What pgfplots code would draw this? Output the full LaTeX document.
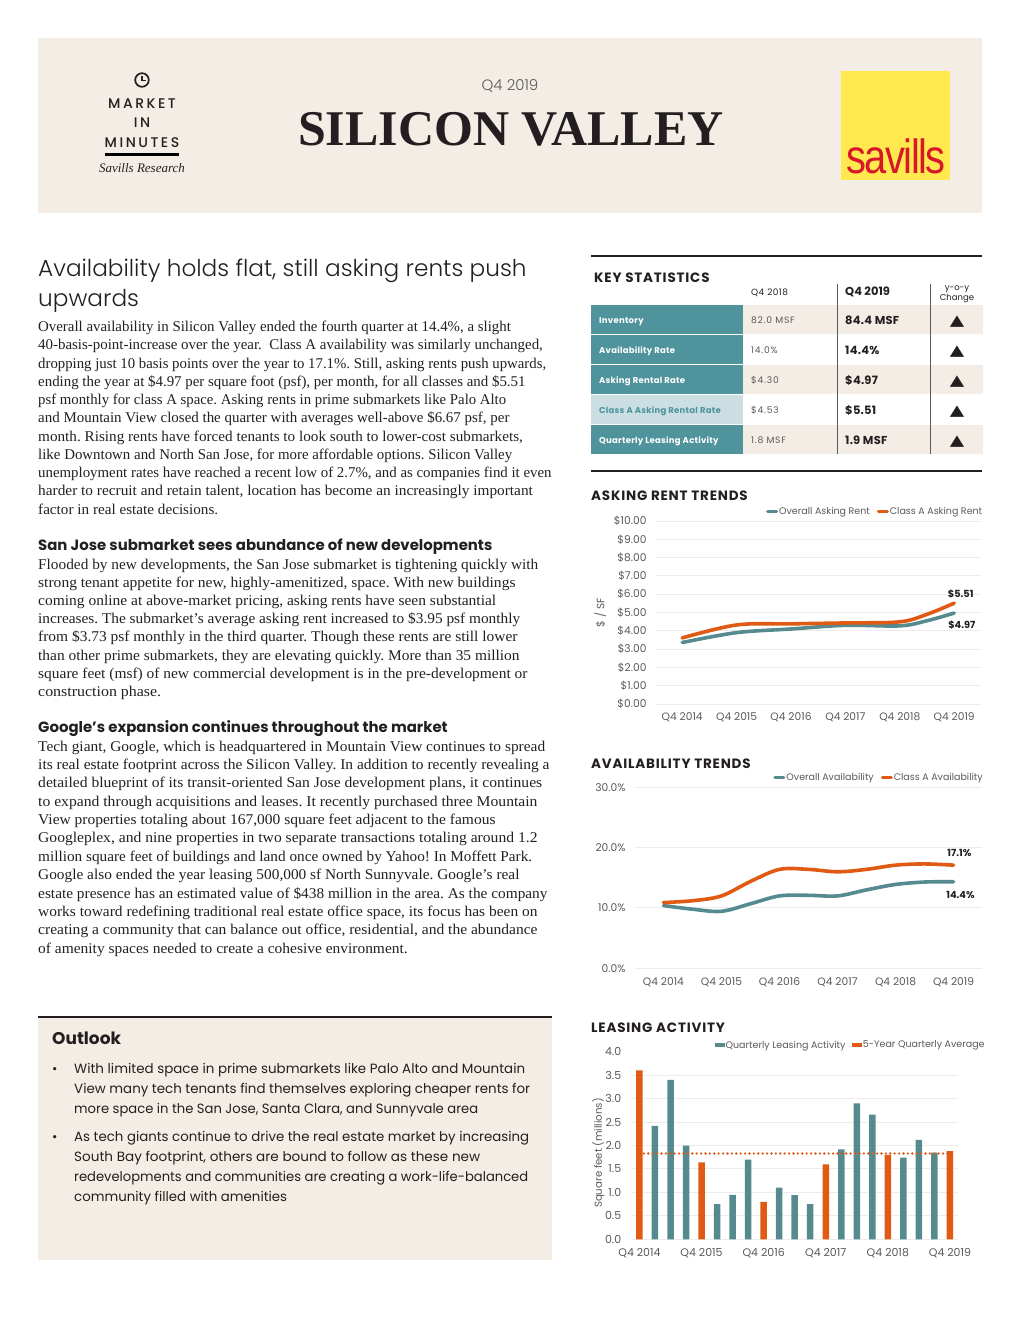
\documentclass[border=0pt]{standalone}
\usepackage{fontspec}
\usepackage{graphicx}
\usepackage{pgfplots}
\pgfplotsset{compat=1.18}
\setmainfont{Liberation Serif}
\setsansfont{Poppins}
\newfontfamily\thin{Poppins Light}
\newfontfamily\medium{Poppins Medium}
\newfontfamily\symb{DejaVu Sans}
\newfontfamily\logo{Liberation Sans}
\definecolor{beige}{HTML}{F3EDE6}
\definecolor{tealbox}{HTML}{4F939C}
\definecolor{tealpale}{HTML}{CBDFE3}
\definecolor{tealline}{HTML}{558A8E}
\definecolor{rust}{HTML}{E05A14}
\definecolor{ink}{HTML}{231F20}
\definecolor{soft}{HTML}{58595B}
\definecolor{gridc}{HTML}{ECECEC}
\definecolor{sun}{HTML}{FFE94E}
\definecolor{brick}{HTML}{D8182A}
\newcommand\fs[1]{\fontsize{#1}{#1}\selectfont}
\newcommand\tl[3]{\node[anchor=base west,inner sep=0pt] at (#1,#2) {#3};}
% baseline, right edge in the page, text: each line squeezed to the width it has in the page
\newcommand\body[3]{\node[anchor=base west,inner sep=0pt,text=ink] at (38,#1) {\resizebox{\dimexpr#2pt-38pt\relax}{\height}{\fs{14.9}\rmfamily\frenchspacing #3}};}
\newcommand\outl[3]{\node[anchor=base west,inner sep=0pt,text=ink] at (74,#1) {\resizebox{\dimexpr#2pt-74pt\relax}{\height}{\fs{13.4}\sffamily #3}};}
\newcommand\sect[3]{\node[anchor=base west,inner sep=0pt,text=ink] at (#1,#2) {\fs{13.5}\sffamily\bfseries\addfontfeature{LetterSpace=6}#3};}
\newcommand\upmark[1]{\node[anchor=base,inner sep=0pt,text=ink,xscale=1.25] at (957,#1) {\fs{15}\symb ▲};}
\pgfplotsset{
  pagechart/.style={
    scale only axis,
    axis line style={draw=none},
    major tick length=0pt,
    ymajorgrids,
    grid style={gridc,line width=1pt},
    tick label style={font=\fs{10.7}\sffamily,text=soft},
    xticklabel style={yshift=-5.5pt},
    /pgf/number format/assume math mode=true,
    legend columns=2,
    legend cell align=left,
    legend style={draw=none,fill=none,inner sep=0pt,at={(1,1)},anchor=south east,
      xshift=3pt,yshift=3pt,
      font=\fs{9.5}\sffamily,text=soft,
      /tikz/every odd column/.append style={column sep=-1pt},
      /tikz/every even column/.append style={column sep=5pt}},
    legend image code/.code={\draw[##1,line width=3pt] (0,0) -- (9pt,0);},
  },
  trend/.style={line width=3.6pt,smooth,tension=0.55,no markers,line cap=round},
}
\begin{document}
\begin{tikzpicture}[x=1pt,y=-1pt]
\path[use as bounding box] (0,0) rectangle (1020,1320);

% banner
\fill[beige] (38,38) rectangle (982,213);
\fill[sun] (841,71) rectangle (950,180);
\node[anchor=base,inner sep=0pt,text=brick,xscale=0.83] at (896,173) {\fs{48}\logo\addfontfeature{LetterSpace=-4}savills};
\draw[ink,line width=1.7pt] (142,80) circle (6.8);
\draw[ink,line width=1.3pt] (142,75.5) -- (142,80.5) -- (146,80.5);
\node[anchor=base,inner sep=0pt,text=ink] at (142,108) {\fs{14}\medium\addfontfeature{LetterSpace=18}MARKET};
\node[anchor=base,inner sep=0pt,text=ink] at (142,127.5) {\fs{14}\medium\addfontfeature{LetterSpace=18}IN};
\node[anchor=base,inner sep=0pt,text=ink] at (142,147) {\fs{14}\medium\addfontfeature{LetterSpace=18}MINUTES};
\node[anchor=base,inner sep=0pt,text=ink] at (142,172) {\fs{13}\rmfamily\itshape Savills Research};
\node[anchor=base,inner sep=0pt,text=soft] at (510,90) {\fs{15}\thin Q4 2019};
\node[anchor=base,inner sep=0pt,text=ink] at (511,145) {\fs{50}\rmfamily\bfseries SILICON VALLEY};
\draw[black,line width=2.2pt] (105,154.5) -- (179,154.5);

% article
\tl{38}{276}{\fs{23.2}\thin\color{ink}Availability holds flat, still asking rents push}
\tl{38}{306}{\fs{23.2}\thin\color{ink}upwards}
\body{331}{510.7}{Overall availability in Silicon Valley ended the fourth quarter at 14.4\%, a slight}
\body{349}{542.7}{40-basis-point-increase over the year.\ \ Class A availability was similarly unchanged,}
\body{368}{546}{dropping just 10 basis points over the year to 17.1\%. Still, asking rents push upwards,}
\body{386}{525.3}{ending the year at \$4.97 per square foot (psf), per month, for all classes and \$5.51}
\body{404}{506}{psf monthly for class A space. Asking rents in prime submarkets like Palo Alto}
\body{422}{509.3}{and Mountain View closed the quarter with averages well-above \$6.67 psf, per}
\body{441}{522.7}{month. Rising rents have forced tenants to look south to lower-cost submarkets,}
\body{459}{512}{like Downtown and North San Jose, for more affordable options. Silicon Valley}
\body{477}{551.3}{unemployment rates have reached a recent low of 2.7\%, and as companies find it even}
\body{495}{532.7}{harder to recruit and retain talent, location has become an increasingly important}
\body{514}{218}{factor in real estate decisions.}
\tl{38}{550}{\fs{14.9}\sffamily\bfseries\color{ink}San Jose submarket sees abundance of new developments}
\body{569}{538}{Flooded by new developments, the San Jose submarket is tightening quickly with}
\body{587}{515.3}{strong tenant appetite for new, highly-amenitized, space. With new buildings}
\body{605}{496}{coming online at above-market pricing, asking rents have seen substantial}
\body{623}{520}{increases. The submarket’s average asking rent increased to \$3.95 psf monthly}
\body{641}{517.3}{from \$3.73 psf monthly in the third quarter. Though these rents are still lower}
\body{660}{519.3}{than other prime submarkets, they are elevating quickly. More than 35 million}
\body{678}{527.3}{square feet (msf) of new commercial development is in the pre-development or}
\body{696}{161}{construction phase.}
\tl{38}{732}{\fs{14.9}\sffamily\bfseries\color{ink}Google’s expansion continues throughout the market}
\body{751}{545}{Tech giant, Google, which is headquartered in Mountain View continues to spread}
\body{769}{549.3}{its real estate footprint across the Silicon Valley. In addition to recently revealing a}
\body{787}{542}{detailed blueprint of its transit-oriented San Jose development plans, it continues}
\body{806}{537.3}{to expand through acquisitions and leases. It recently purchased three Mountain}
\body{824}{495.3}{View properties totaling about 167,000 square feet adjacent to the famous}
\body{842}{537.3}{Googleplex, and nine properties in two separate transactions totaling around 1.2}
\body{861}{532}{million square feet of buildings and land once owned by Yahoo! In Moffett Park.}
\body{879}{519.3}{Google also ended the year leasing 500,000 sf North Sunnyvale. Google’s real}
\body{898}{547.3}{estate presence has an estimated value of \$438 million in the area. As the company}
\body{916}{537.3}{works toward redefining traditional real estate office space, its focus has been on}
\body{934}{537.3}{creating a community that can balance out office, residential, and the abundance}
\body{953}{407.5}{of amenity spaces needed to create a cohesive environment.}

% outlook
\fill[beige] (38,1017) rectangle (552,1260);
\draw[ink,line width=1.5pt] (38,1017) -- (552,1017);
\tl{52}{1044}{\fs{17}\sffamily\bfseries\color{ink}Outlook}
\tl{52}{1073}{\fs{13}\sffamily\color{ink}•}
\tl{52}{1141}{\fs{13}\sffamily\color{ink}•}
\outl{1073}{525}{With limited space in prime submarkets like Palo Alto and Mountain}
\outl{1093}{530}{View many tech tenants find themselves exploring cheaper rents for}
\outl{1113}{478}{more space in the San Jose, Santa Clara, and Sunnyvale area}
\outl{1141}{529}{As tech giants continue to drive the real estate market by increasing}
\outl{1161}{480}{South Bay footprint, others are bound to follow as these new}
\outl{1181}{528}{redevelopments and communities are creating a work-life-balanced}
\outl{1201}{287}{community filled with amenities}

% key statistics table
\draw[ink,line width=1.5pt] (591,256) -- (982,256);
\draw[ink,line width=1.5pt] (591,471) -- (982,471);
\sect{594}{282}{KEY STATISTICS}
\fill[beige] (743,305) rectangle (983,334);
\fill[beige] (743,365) rectangle (983,394);
\fill[beige] (743,425) rectangle (983,454);
\fill[tealbox] (591,305) rectangle (743,334);
\fill[tealbox] (591,335) rectangle (743,364);
\fill[tealbox] (591,365) rectangle (743,394);
\fill[tealpale] (591,395) rectangle (743,424);
\fill[tealbox] (591,425) rectangle (743,454);
\draw[soft,line width=1pt] (837.5,284) -- (837.5,454);
\draw[soft,line width=1pt] (930.5,284) -- (930.5,454);
\tl{751}{295}{\fs{9}\sffamily\addfontfeature{LetterSpace=5}\color{ink}Q4 2018}
\tl{845}{295.5}{\fs{11.5}\sffamily\bfseries\color{ink}Q4 2019}
\node[anchor=base,inner sep=0pt,text=ink] at (957,290) {\fs{8.5}\sffamily y-o-y};
\node[anchor=base,inner sep=0pt,text=ink] at (957,300.5) {\fs{8.5}\sffamily Change};
\tl{599}{323}{\fs{8.5}\sffamily\bfseries\addfontfeature{LetterSpace=3}\color{white}Inventory}
\tl{599}{353}{\fs{8.5}\sffamily\bfseries\addfontfeature{LetterSpace=3}\color{white}Availability Rate}
\tl{599}{383}{\fs{8.5}\sffamily\bfseries\addfontfeature{LetterSpace=3}\color{white}Asking Rental Rate}
\tl{599}{413}{\fs{8.5}\sffamily\bfseries\addfontfeature{LetterSpace=3}\color{tealbox}Class A Asking Rental Rate}
\tl{599}{443}{\fs{8.5}\sffamily\bfseries\addfontfeature{LetterSpace=3}\color{white}Quarterly Leasing Activity}
\tl{751}{323.5}{\fs{9.2}\sffamily\addfontfeature{LetterSpace=8}\color{soft}82.0 MSF}
\tl{751}{353.5}{\fs{9.2}\sffamily\addfontfeature{LetterSpace=8}\color{soft}14.0\%}
\tl{751}{383.5}{\fs{9.2}\sffamily\addfontfeature{LetterSpace=8}\color{soft}\$4.30}
\tl{751}{413.5}{\fs{9.2}\sffamily\addfontfeature{LetterSpace=8}\color{soft}\$4.53}
\tl{751}{443.5}{\fs{9.2}\sffamily\addfontfeature{LetterSpace=8}\color{soft}1.8 MSF}
\tl{845}{324}{\fs{11.5}\sffamily\bfseries\addfontfeature{LetterSpace=2}\color{ink}84.4 MSF}
\tl{845}{354}{\fs{11.5}\sffamily\bfseries\addfontfeature{LetterSpace=2}\color{ink}14.4\%}
\tl{845}{384}{\fs{11.5}\sffamily\bfseries\addfontfeature{LetterSpace=2}\color{ink}\$4.97}
\tl{845}{414}{\fs{11.5}\sffamily\bfseries\addfontfeature{LetterSpace=2}\color{ink}\$5.51}
\tl{845}{444}{\fs{11.5}\sffamily\bfseries\addfontfeature{LetterSpace=2}\color{ink}1.9 MSF}
\upmark{325}\upmark{355}\upmark{385}\upmark{415}\upmark{445}

% asking rent trends
\sect{591}{500}{ASKING RENT TRENDS}
\begin{axis}[pagechart,at={(655pt,-704pt)},anchor=south west,width=326.4pt,height=183pt,
  xmin=-0.5,xmax=5.5,ymin=0,ymax=10,clip=false,
  xtick={0,...,5},xticklabels={Q4 2014,Q4 2015,Q4 2016,Q4 2017,Q4 2018,Q4 2019},
  ytick={0,...,10},
  yticklabel style={xshift=-5pt},
  yticklabel={\$\pgfmathprintnumber[fixed,fixed zerofill,precision=2]{\tick}},
  ylabel={\$ / SF},
  every axis y label/.style={at={(axis description cs:-0.168,0.5)},rotate=90,anchor=center,font=\fs{10.7}\sffamily,text=soft},
  ]
\addplot[trend,tealline] coordinates {(0,3.36) (1,3.9) (2,4.1) (3,4.3) (4,4.27) (4.5,4.55) (5,4.97)};
\addlegendentry{Overall Asking Rent}
\addplot[trend,rust] coordinates {(0,3.61) (1,4.32) (2,4.38) (3,4.43) (4,4.49) (4.5,4.9) (5,5.51)};
\addlegendentry{Class A Asking Rent}
\node[anchor=center,font=\fs{9.8}\sffamily\bfseries,text=ink] at (axis cs:5.12,6.0) {\$5.51};
\node[anchor=center,font=\fs{9.8}\sffamily\bfseries,text=ink] at (axis cs:5.14,4.3) {\$4.97};
\end{axis}

% availability trends
\sect{591}{768}{AVAILABILITY TRENDS}
\begin{axis}[pagechart,at={(635pt,-968.3pt)},anchor=south west,width=347pt,height=181pt,
  xmin=-0.49,xmax=5.49,ymin=0,ymax=30,clip=false,
  xtick={0,...,5},xticklabels={Q4 2014,Q4 2015,Q4 2016,Q4 2017,Q4 2018,Q4 2019},
  ytick={0,10,20,30},
  yticklabel style={xshift=-6pt},
  yticklabel={\pgfmathprintnumber[fixed,fixed zerofill,precision=1]{\tick}\%},
  ]
\addplot[trend,tealline] coordinates {(0,10.4) (0.5,9.8) (1,9.45) (1.5,10.7) (2,12.0) (2.5,12.1) (3,12.0) (3.5,13.0) (4,13.9) (4.5,14.3) (5,14.35)};
\addlegendentry{Overall Availability}
\addplot[trend,rust] coordinates {(0,10.9) (0.5,11.2) (1,12.0) (1.5,14.4) (2,16.4) (2.5,16.4) (3,16.0) (3.5,16.4) (4,17.1) (4.5,17.3) (5,17.1)};
\addlegendentry{Class A Availability}
\node[anchor=center,font=\fs{9.8}\sffamily\bfseries,text=ink] at (axis cs:5.1,19.1) {17.1\%};
\node[anchor=center,font=\fs{9.8}\sffamily\bfseries,text=ink] at (axis cs:5.12,12.1) {14.4\%};
\end{axis}

% leasing activity
\sect{591}{1032}{LEASING ACTIVITY}
\begin{axis}[pagechart,at={(631.7pt,-1239.3pt)},anchor=south west,width=326pt,height=187.6pt,
  xmin=-0.5,xmax=20.5,ymin=0,ymax=4,clip=false,
  tick label style={font=\fs{11}\sffamily,text=soft},
  xtick={0,4,...,20},xticklabels={Q4 2014,Q4 2015,Q4 2016,Q4 2017,Q4 2018,Q4 2019},
  ytick={0,0.5,...,3.5},
  extra y ticks={4},
  extra tick style={grid=none},
  yticklabel style={xshift=-7pt},
  yticklabel={\pgfmathprintnumber[fixed,fixed zerofill,precision=1]{\tick}},
  ylabel={Square feet (millions)},
  every axis y label/.style={at={(axis description cs:-0.102,0.46)},rotate=90,anchor=center,font=\fs{10.2}\sffamily,text=soft},
  legend style={at={(1.08,1)},yshift=-3pt},
  ]
\addplot[ybar,bar width=6.5pt,bar shift=0pt,fill=tealline,draw=none,forget plot] coordinates {
  (1,2.42) (2,3.4) (3,2.0) (5,0.75) (6,0.95) (7,1.7) (9,1.1) (10,0.94) (11,0.75)
  (13,1.92) (14,2.9) (15,2.66) (17,1.74) (18,2.12) (19,1.85)};
\addplot[rust,line width=2.6pt,line cap=round,dash pattern=on 0pt off 4.4pt,no markers,forget plot] coordinates {(0,1.83) (20,1.83)};
\addplot[ybar,bar width=6.5pt,bar shift=0pt,fill=rust,draw=none,forget plot] coordinates {
  (0,3.6) (4,1.64) (8,0.8) (12,1.6) (16,1.8) (20,1.88)};
\addlegendimage{legend image code/.code={\fill[tealline] (0,-1.5pt) rectangle (9pt,1.5pt);}}
\addlegendentry{Quarterly Leasing Activity}
\addlegendimage{legend image code/.code={\fill[rust] (0,-1.5pt) rectangle (9pt,1.5pt);}}
\addlegendentry{5-Year Quarterly Average}
\end{axis}
\end{tikzpicture}
\end{document}
